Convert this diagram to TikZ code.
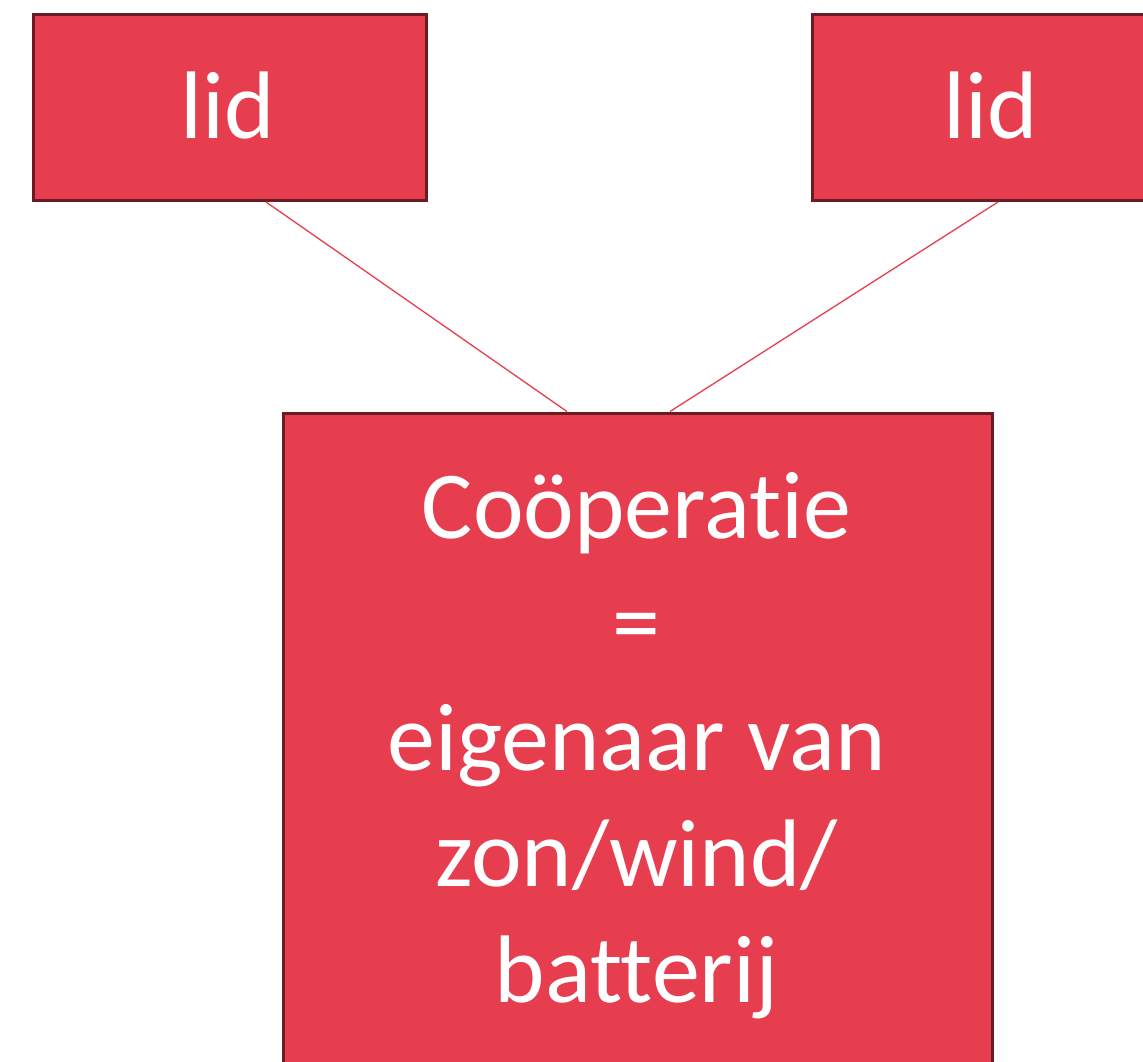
\documentclass[tikz,border=0pt]{standalone}
\usepackage{fontspec}
\setmainfont{Carlito}[Ligatures={NoCommon}]
\usetikzlibrary{calc}
\definecolor{boxfill}{HTML}{E63E4F}
\definecolor{boxline}{HTML}{6B1B24}
\tikzset{
  redbox/.style={draw=boxline, fill=boxfill, line width=3pt, rectangle, inner sep=0pt, anchor=north west},
  boxtext/.style={text=white, font=\fontsize{96}{116}\selectfont, inner sep=0pt, anchor=base, align=center},
  link/.style={draw=boxfill, line width=1.3pt}
}
\begin{document}
\begin{tikzpicture}[x=1pt,y=-1pt]
\useasboundingbox (0,0) rectangle (1143,1061);
\clip (0,0) rectangle (1143,1061);
\fill[white] (0,0) rectangle (1143,1061);
\node[redbox, minimum width=393pt, minimum height=186.5pt] (lidL) at (31.5,12.5) {};
\node[redbox, minimum width=370pt, minimum height=186.5pt] (lidR) at (810.5,12.5) {};
\node[redbox, minimum width=709pt, minimum height=700pt] (coop) at (282,411.5) {};
\node[boxtext] (lidLt) at (228,138) {lid};
\node[boxtext] (lidRt) at (991,138) {lid};
\node[boxtext] (coopt) at (636.5,1002) {Coöperatie\\=\\eigenaar van\\zon/wind/\\batterij};
\draw[link] ($(lidL.south west)+(234.5,0)$) -- ($(coop.north west)+(285,0)$);
\draw[link] ($(lidR.south west)+(187.5,0)$) -- ($(coop.north west)+(388,0)$);
\end{tikzpicture}
\end{document}
